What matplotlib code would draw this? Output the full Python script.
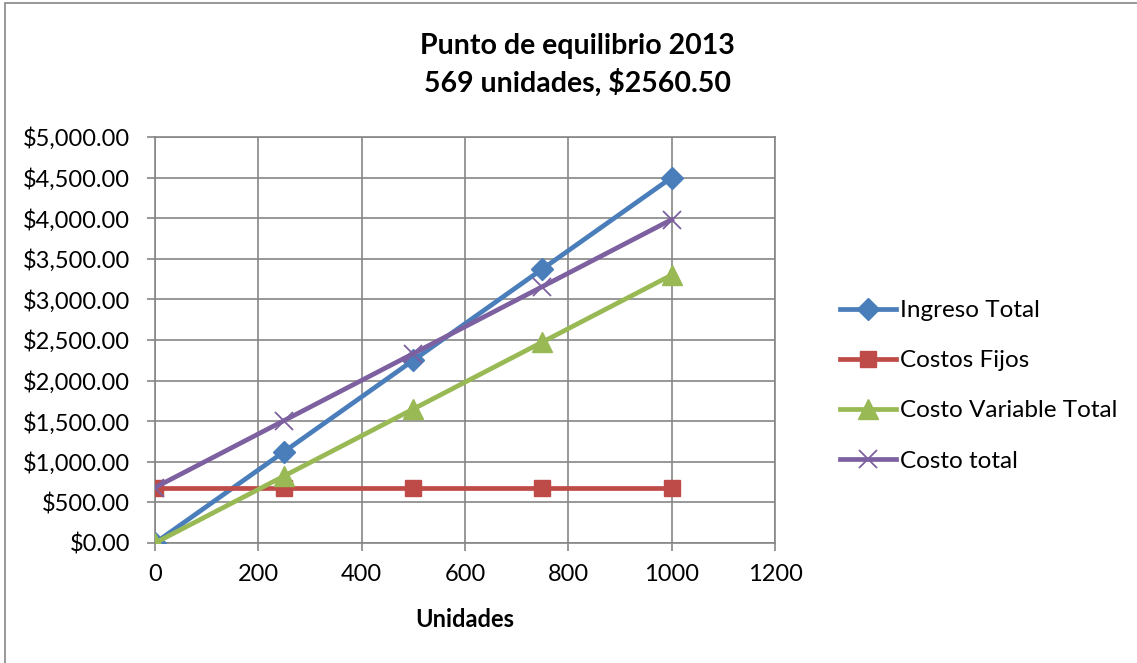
import matplotlib
matplotlib.use("Agg")
import matplotlib.pyplot as plt
from matplotlib.ticker import FuncFormatter, MultipleLocator
from matplotlib.patches import Rectangle

plt.rcParams['font.family'] = ['Lato', 'DejaVu Sans']

unidades = [0, 250, 500, 750, 1000]
ingreso_total = [0, 1125, 2250, 3375, 4500]
costos_fijos = [683, 683, 683, 683, 683]
costo_variable = [0, 825, 1650, 2475, 3300]
costo_total = [683, 1508, 2333, 3158, 3983]

fig = plt.figure(figsize=(11.37, 6.63), dpi=100)
fig.patches.append(Rectangle((0.0045, -0.01), 1.2, 1.0055, transform=fig.transFigure,
                             fill=False, edgecolor='#868686', linewidth=1.2))
ax = fig.add_axes([0.1363, 0.181, 0.5453, 0.6124])

lw = 3.4
ax.plot(unidades, ingreso_total, color='#4A7EBB', lw=lw, marker='D', ms=11,
        label='Ingreso Total', zorder=3)
ax.plot(unidades, costos_fijos, color='#BE4B48', lw=lw, marker='s', ms=12,
        label='Costos Fijos', zorder=3)
ax.plot(unidades, costo_variable, color='#98B954', lw=lw, marker='^', ms=14,
        label='Costo Variable Total', zorder=3)
ax.plot(unidades, costo_total, color='#7D60A0', lw=lw, marker='x', ms=13, mew=1.3,
        label='Costo total', zorder=4)

ax.set_xlim(0, 1200)
ax.set_ylim(0, 5000)
ax.xaxis.set_major_locator(MultipleLocator(200))
ax.yaxis.set_major_locator(MultipleLocator(500))
ax.yaxis.set_major_formatter(FuncFormatter(lambda v, p: '${:,.2f}'.format(v)))
ax.grid(True, color='#868686', lw=1.2)
ax.set_axisbelow(True)
for s in ax.spines.values():
    s.set_color('#868686')
    s.set_linewidth(1.2)
ax.tick_params(direction='out', length=6, width=1.2, color='#868686',
               labelsize=17)
ax.tick_params(axis='y', pad=12)
ax.tick_params(axis='x', pad=9)
for lab in ax.get_xticklabels() + ax.get_yticklabels():
    lab.set_clip_on(False)

ax.set_xlabel('Unidades', fontsize=17, fontweight='bold', labelpad=17)
fig.text(0.508, 0.902, 'Punto de equilibrio 2013\n569 unidades, $2560.50',
         ha='center', va='center', fontsize=20.5, fontweight='bold', linespacing=1.45)

ax.legend(loc='center left', bbox_to_anchor=(1.105, 0.387), frameon=False,
          fontsize=17.5, handlelength=2.3, handletextpad=0.15, labelspacing=1.2,
          borderaxespad=0, borderpad=0)

fig.savefig('out.png', dpi=100)
